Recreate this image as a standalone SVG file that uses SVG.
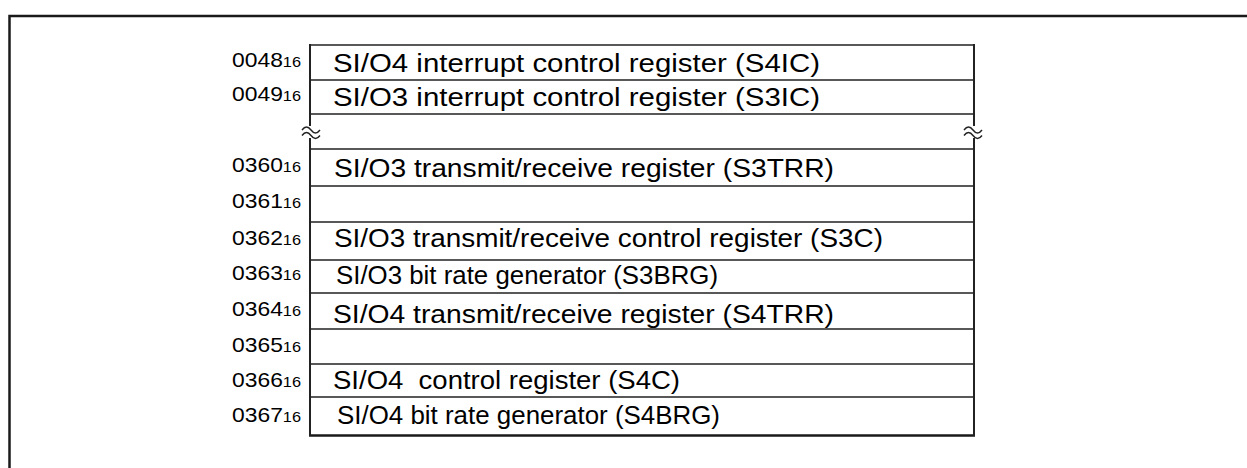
<svg xmlns="http://www.w3.org/2000/svg" width="1247" height="468" viewBox="0 0 1247 468">
<style>
.frame{fill:none;stroke:#1a1a1a;stroke-width:2.5}
.rl{stroke:#222;stroke-width:1.6;fill:none}
.vl{stroke:#222;stroke-width:2;fill:none}
.t{font-family:"Liberation Sans",Arial,sans-serif;font-size:26.5px;fill:#000}
.a{font-family:"Liberation Sans",Arial,sans-serif;font-size:21px;fill:#000}
.s{font-size:15px}
.brk{fill:none;stroke:#222;stroke-width:1.4}
</style>
<rect width="1247" height="468" fill="#fff"/>
<path class="frame" d="M9.5,468 V16 H1247"/>
<g id="connectors">
<path class="rl" d="M310,45 H974 M310,80 H974 M310,114 H974 M310,149 H974 M310,186 H974 M310,222 H974 M310,260 H974 M310,293 H974 M310,329 H974 M310,364 H974 M310,397 H974"/>
<path d="M309,435.5 H975" stroke="#1a1a1a" stroke-width="2.6"/>
<path class="vl" d="M310,44 V126 M310,138 V436 M974,44 V126 M974,138 V436"/>
</g>
<g id="break-left">
<path class="brk" d="M302,130 c3,-4 6,-4 9,0 s6,4 9,0 M302,135.5 c3,-4 6,-4 9,0 s6,4 9,0"/>
</g>
<g id="break-right">
<path class="brk" d="M964,130 c3,-4 6,-4 9,0 s6,4 9,0 M964,135.5 c3,-4 6,-4 9,0 s6,4 9,0"/>
</g>
<g id="row-0048"><text class="a" x="232" y="67" textLength="69" lengthAdjust="spacingAndGlyphs">0048<tspan class="s">16</tspan></text><text class="t" x="333" y="72" textLength="487" lengthAdjust="spacingAndGlyphs">SI/O4 interrupt control register (S4IC)</text></g>
<g id="row-0049"><text class="a" x="232" y="101" textLength="69" lengthAdjust="spacingAndGlyphs">0049<tspan class="s">16</tspan></text><text class="t" x="333" y="106" textLength="487" lengthAdjust="spacingAndGlyphs">SI/O3 interrupt control register (S3IC)</text></g>
<g id="row-0360"><text class="a" x="232" y="172" textLength="69" lengthAdjust="spacingAndGlyphs">0360<tspan class="s">16</tspan></text><text class="t" x="334" y="177" textLength="500" lengthAdjust="spacingAndGlyphs">SI/O3 transmit/receive register (S3TRR)</text></g>
<g id="row-0361"><text class="a" x="232" y="208" textLength="69" lengthAdjust="spacingAndGlyphs">0361<tspan class="s">16</tspan></text></g>
<g id="row-0362"><text class="a" x="232" y="245" textLength="69" lengthAdjust="spacingAndGlyphs">0362<tspan class="s">16</tspan></text><text class="t" x="334" y="247" textLength="549" lengthAdjust="spacingAndGlyphs">SI/O3 transmit/receive control register (S3C)</text></g>
<g id="row-0363"><text class="a" x="232" y="280" textLength="69" lengthAdjust="spacingAndGlyphs">0363<tspan class="s">16</tspan></text><text class="t" x="336" y="284" textLength="382" lengthAdjust="spacingAndGlyphs">SI/O3 bit rate generator (S3BRG)</text></g>
<g id="row-0364"><text class="a" x="232" y="316" textLength="69" lengthAdjust="spacingAndGlyphs">0364<tspan class="s">16</tspan></text><text class="t" x="333" y="323" textLength="501" lengthAdjust="spacingAndGlyphs">SI/O4 transmit/receive register (S4TRR)</text></g>
<g id="row-0365"><text class="a" x="232" y="352" textLength="69" lengthAdjust="spacingAndGlyphs">0365<tspan class="s">16</tspan></text></g>
<g id="row-0366"><text class="a" x="232" y="387" textLength="69" lengthAdjust="spacingAndGlyphs">0366<tspan class="s">16</tspan></text><text class="t" x="333" y="389" textLength="347" lengthAdjust="spacingAndGlyphs" xml:space="preserve">SI/O4  control register (S4C)</text></g>
<g id="row-0367"><text class="a" x="232" y="422" textLength="69" lengthAdjust="spacingAndGlyphs">0367<tspan class="s">16</tspan></text><text class="t" x="337" y="424" textLength="383" lengthAdjust="spacingAndGlyphs">SI/O4 bit rate generator (S4BRG)</text></g>
</svg>
